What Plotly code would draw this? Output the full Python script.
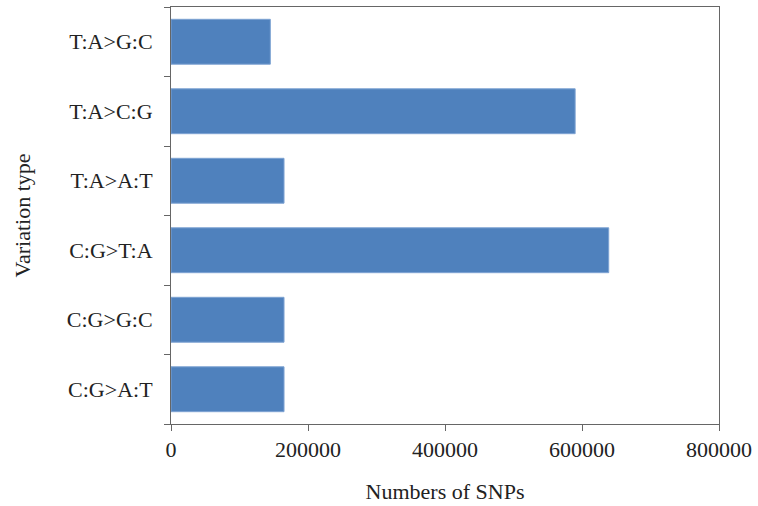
import plotly.graph_objects as go

# Transition/transversion classes and SNP counts
variation_types = ["C:G>A:T", "C:G>G:C", "C:G>T:A", "T:A>A:T", "T:A>C:G", "T:A>G:C"]
snp_counts = [165000, 165000, 639000, 165000, 590000, 145000]
x_tick_values = [0, 200000, 400000, 600000, 800000]
x_tick_labels = ["0", "200000", "400000", "600000", "800000"]

FONT = "Liberation Serif, Times New Roman, serif"
AXIS_COLOR = "#666666"
FS = 22

fig = go.Figure(
    go.Bar(
        x=snp_counts,
        y=variation_types,
        orientation="h",
        marker=dict(color="#4F81BD", line=dict(color="#7ea3d3", width=1)),
    )
)

fig.update_layout(
    width=758,
    height=506,
    margin=dict(l=171, r=36, t=6, b=82),
    paper_bgcolor="white",
    plot_bgcolor="white",
    bargap=0.354,
    showlegend=False,
    font=dict(family=FONT, size=FS, color="#222222"),
)

fig.update_xaxes(
    range=[0, 800000],
    tickvals=x_tick_values,
    ticktext=x_tick_labels,
    ticks="outside",
    ticklen=6,
    tickcolor=AXIS_COLOR,
    showline=True,
    linecolor=AXIS_COLOR,
    linewidth=1,
    mirror=True,
    showgrid=False,
    zeroline=False,
    title=dict(text="Numbers of SNPs", font=dict(family=FONT, size=FS), standoff=22),
    tickfont=dict(family=FONT, size=FS),
)

fig.update_yaxes(
    categoryorder="array",
    categoryarray=variation_types,
    tickson="boundaries",
    ticks="outside",
    ticklen=6,
    tickcolor=AXIS_COLOR,
    showline=True,
    linecolor=AXIS_COLOR,
    linewidth=1,
    mirror=True,
    showgrid=False,
    ticklabelstandoff=13,
    title=dict(text="Variation type", font=dict(family=FONT, size=FS), standoff=30),
    tickfont=dict(family=FONT, size=FS),
)

fig.write_html("out.html")
